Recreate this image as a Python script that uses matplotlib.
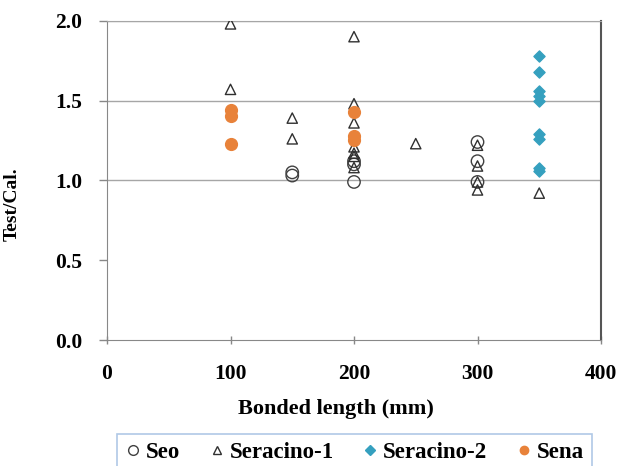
import numpy as np
import matplotlib
matplotlib.use('Agg')
import matplotlib.pyplot as plt
from matplotlib.lines import Line2D

# data
seo_x = [150, 150, 200, 200, 200, 300, 300, 300]
seo_y = [1.05, 1.03, 1.12, 1.10, 0.99, 1.24, 1.12, 0.99]

ser1_x = [100, 100, 150, 150, 200, 200, 200, 200, 200, 200, 200, 250,
          300, 300, 300, 300, 350]
ser1_y = [1.98, 1.57, 1.39, 1.26, 1.90, 1.48, 1.36, 1.21, 1.17, 1.15, 1.08, 1.23,
          1.22, 1.09, 0.99, 0.94, 0.92]

ser2_x = [350, 350, 350, 350, 350, 350, 350, 350, 350]
ser2_y = [1.78, 1.68, 1.56, 1.53, 1.50, 1.29, 1.26, 1.08, 1.06]

sena_x = [100, 100, 100, 200, 200, 200]
sena_y = [1.44, 1.40, 1.23, 1.43, 1.28, 1.25]

xticks = [0, 100, 200, 300, 400]
yticks = [0.0, 0.5, 1.0, 1.5, 2.0]
grid_y = [1.0, 1.5, 2.0]

plt.rcParams['font.family'] = ['Liberation Serif', 'DejaVu Serif']
plt.rcParams['font.weight'] = 'bold'

W, H = 634, 466
fig = plt.figure(figsize=(W / 100, H / 100), dpi=100)
ax = fig.add_axes([107 / W, 1 - 340 / H, (601 - 107) / W, (340 - 20.7) / H])

orange = '#E8823A'
teal = '#35A0BF'

for g in grid_y:
    ax.axhline(g, color='#a6a6a6', lw=1.0, zorder=0)

ax.scatter(seo_x, seo_y, s=80, marker='o', facecolors='none',
           edgecolors='#404040', linewidths=1.0, zorder=3)
ax.scatter(ser1_x, ser1_y, s=55, marker='^', facecolors='none',
           edgecolors='#303030', linewidths=1.0, zorder=3)
ax.scatter(ser2_x, ser2_y, s=32, marker='D', color=teal, zorder=4)
ax.scatter(sena_x, sena_y, s=72, marker='o', color=orange, zorder=4)

ax.set_xlim(0, 400)
ax.set_ylim(0, 2.0)
ax.set_xticks(xticks)
ax.set_xticklabels([str(v) for v in xticks])
ax.set_yticks(yticks)
ax.set_yticklabels(['%.1f' % v for v in yticks])
ax.tick_params(axis='y', direction='out', length=6, width=1, color='#888888',
               pad=12, labelsize=15.5)
ax.tick_params(axis='x', direction='inout', length=6, width=1, color='#888888',
               pad=14, labelsize=15.5)

for side in ['left', 'bottom']:
    ax.spines[side].set_color('#888888')
ax.spines['top'].set_color('#a6a6a6')
ax.spines['right'].set_color('#555555')
ax.spines['right'].set_linewidth(1.5)

ax.set_xlabel('Bonded length (mm)', fontsize=16, fontweight='bold')
ax.xaxis.set_label_coords(0.464, -0.185)
ax.set_ylabel('Test/Cal.', fontsize=14, fontweight='bold')
ax.yaxis.set_label_coords(-(107 - 21) / 494, (340 - 204) / 319.3)

handles = [
    Line2D([], [], ls='none', marker='o', ms=7, mfc='none', mec='#404040', mew=1),
    Line2D([], [], ls='none', marker='^', ms=6, mfc='none', mec='#303030', mew=1),
    Line2D([], [], ls='none', marker='D', ms=5, color=teal),
    Line2D([], [], ls='none', marker='o', ms=6, color=orange),
]
labels = ['Seo', 'Seracino-1', 'Seracino-2', 'Sena']
leg = fig.legend(handles, labels, loc='upper left', ncol=4, mode='expand',
                 bbox_to_anchor=(117 / W, 1 - 434 / H, 475 / W, 0.0),
                 borderaxespad=0, frameon=True, fancybox=False,
                 handlelength=0.7, handletextpad=0.2, columnspacing=1.0,
                 borderpad=0.35, prop={'size': 16.5, 'weight': 'bold'})
leg.get_frame().set_edgecolor('#9dbbe0')
leg.get_frame().set_linewidth(1.2)

fig.savefig('out.png', dpi=100)
